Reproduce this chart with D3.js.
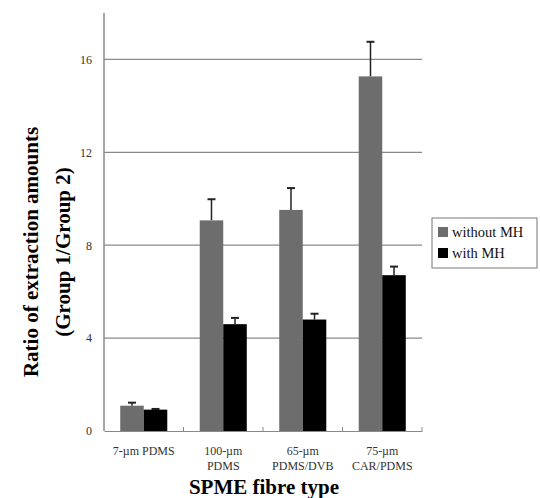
<!DOCTYPE html>
<html>
<head>
<meta charset="utf-8">
<script src="https://cdn.jsdelivr.net/npm/d3@7"></script>
<style>
  body { margin: 0; background: #fff; }
  svg text { font-family: "Liberation Serif", "DejaVu Serif", serif; }
</style>
</head>
<body>
<div id="main"></div>
<script>
// data
const categories = ['7-µm PDMS', '100-µm PDMS', '65-µm PDMS/DVB', '75-µm CAR/PDMS'];
const catLines = [['7-µm PDMS'], ['100-µm', 'PDMS'], ['65-µm', 'PDMS/DVB'], ['75-µm', 'CAR/PDMS']];
const seriesNames = ['without MH', 'with MH'];
const withoutMH = [1.09, 9.07, 9.52, 15.27];
const withoutMHErr = [0.13, 0.91, 0.94, 1.49];
const withMH = [0.92, 4.6, 4.8, 6.71];
const withMHErr = [0.03, 0.27, 0.25, 0.37];
const yTicks = [0, 4, 8, 12, 16];

const width = 540, height = 498;
const plotLeft = 104, plotRight = 422, plotTop = 13, plotBottom = 431;
const colors = ['#6d6d6d', '#000000'];

const svg = d3.select('#main').append('svg')
  .attr('width', width)
  .attr('height', height);

const yScale = d3.scaleLinear().domain([0, 18]).range([plotBottom, plotTop]);
const xScale = d3.scaleBand().domain(categories).range([plotLeft, plotRight]).paddingInner(0).paddingOuter(0);
const xInner = d3.scaleBand().domain(seriesNames).range([0, xScale.bandwidth()]).paddingInner(0).paddingOuter(0.69);

// gridlines
svg.append('g')
  .selectAll('line')
  .data(yTicks.filter(d => d > 0))
  .join('line')
    .attr('x1', plotLeft)
    .attr('x2', plotRight)
    .attr('y1', d => yScale(d))
    .attr('y2', d => yScale(d))
    .attr('stroke', '#8a8a8a')
    .attr('stroke-width', 1.2);

// y axis
const yAxis = d3.axisLeft(yScale).tickValues(yTicks).tickSize(0).tickPadding(12);
const gy = svg.append('g')
  .attr('transform', `translate(${plotLeft},0)`)
  .call(yAxis);
gy.select('.domain').remove();
gy.selectAll('text').attr('font-size', 12).attr('fill', '#333');
svg.append('line')
  .attr('x1', plotLeft).attr('x2', plotLeft)
  .attr('y1', plotTop).attr('y2', plotBottom)
  .attr('stroke', '#8a8a8a').attr('stroke-width', 1.5);

// x axis
const xAxis = d3.axisBottom(xScale).tickSize(0).tickFormat('');
const gx = svg.append('g')
  .attr('transform', `translate(0,${plotBottom})`)
  .call(xAxis);
gx.select('.domain').attr('stroke', '#8a8a8a').attr('stroke-width', 1.2);
gx.selectAll('.tickmark')
  .data(categories)
  .join('line')
    .attr('class', 'tickmark')
    .attr('x1', d => xScale(d) + xScale.bandwidth())
    .attr('x2', d => xScale(d) + xScale.bandwidth())
    .attr('y1', 0).attr('y2', -4)
    .attr('stroke', '#8a8a8a');

// category labels
const catG = svg.append('g');
categories.forEach((c, i) => {
  const t = catG.append('text')
    .attr('x', xScale(c) + xScale.bandwidth() / 2)
    .attr('y', 455)
    .attr('text-anchor', 'middle')
    .attr('font-size', 12)
    .attr('fill', '#333');
  catLines[i].forEach((line, j) => {
    t.append('tspan')
      .attr('x', xScale(c) + xScale.bandwidth() / 2)
      .attr('dy', j === 0 ? 0 : 14.5)
      .text(line);
  });
});

// bars
const rows = categories.map((c, i) => ({
  cat: c,
  vals: [
    { s: seriesNames[0], v: withoutMH[i], e: withoutMHErr[i] },
    { s: seriesNames[1], v: withMH[i], e: withMHErr[i] }
  ]
}));

const groups = svg.append('g').selectAll('g')
  .data(rows)
  .join('g')
    .attr('transform', d => `translate(${xScale(d.cat)},0)`);

groups.selectAll('line.err')
  .data(d => d.vals)
  .join('line')
    .attr('class', 'err')
    .attr('x1', d => xInner(d.s) + xInner.bandwidth() / 2)
    .attr('x2', d => xInner(d.s) + xInner.bandwidth() / 2)
    .attr('y1', d => yScale(d.v))
    .attr('y2', d => yScale(d.v + d.e))
    .attr('stroke', '#222')
    .attr('stroke-width', 1.5);

groups.selectAll('line.cap')
  .data(d => d.vals)
  .join('line')
    .attr('class', 'cap')
    .attr('x1', d => xInner(d.s) + xInner.bandwidth() / 2 - 4)
    .attr('x2', d => xInner(d.s) + xInner.bandwidth() / 2 + 4)
    .attr('y1', d => yScale(d.v + d.e))
    .attr('y2', d => yScale(d.v + d.e))
    .attr('stroke', '#222')
    .attr('stroke-width', 2);

groups.selectAll('rect')
  .data(d => d.vals)
  .join('rect')
    .attr('x', d => xInner(d.s))
    .attr('y', d => yScale(d.v))
    .attr('width', xInner.bandwidth())
    .attr('height', d => plotBottom - yScale(d.v))
    .attr('fill', (d, i) => colors[i]);

// axis labels
const yl = svg.append('text')
  .attr('transform', 'rotate(-90)')
  .attr('text-anchor', 'middle')
  .attr('font-size', 21)
  .attr('font-weight', 'bold');
yl.append('tspan').attr('x', -252).attr('y', 38).text('Ratio of extraction amounts');
yl.append('tspan').attr('x', -252).attr('y', 70).text('(Group 1/Group 2)');

svg.append('text')
  .attr('x', 264)
  .attr('y', 494)
  .attr('text-anchor', 'middle')
  .attr('font-size', 21)
  .attr('font-weight', 'bold')
  .text('SPME fibre type');

// legend
const legend = svg.append('g').attr('transform', 'translate(432,218)');
legend.append('rect')
  .attr('width', 105).attr('height', 50)
  .attr('fill', '#fff')
  .attr('stroke', '#777');
seriesNames.forEach((s, i) => {
  legend.append('rect')
    .attr('x', 6).attr('y', 9 + i * 21)
    .attr('width', 10).attr('height', 10)
    .attr('fill', colors[i]);
  legend.append('text')
    .attr('x', 20).attr('y', 19 + i * 21)
    .attr('font-size', 14.5)
    .attr('fill', '#111')
    .text(s);
});
</script>
</body>
</html>
